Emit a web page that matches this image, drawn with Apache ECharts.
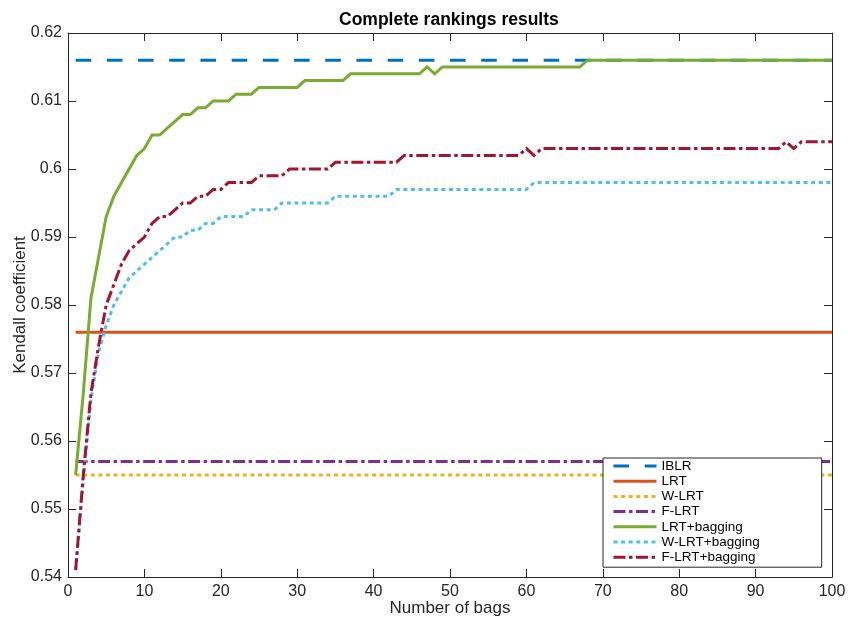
<!DOCTYPE html>
<html>
<head>
<meta charset="utf-8">
<script src="https://cdn.jsdelivr.net/npm/echarts@6/dist/echarts.min.js"></script>
<style>html,body{margin:0;padding:0;background:#fff}#c{width:848px;height:621px}</style>
</head>
<body>
<div id="c"></div>
<script>
// x values: number of bags 1..100
var bags = Array.from({length: 100}, function (_, i) { return i + 1; });

// constant baselines (endpoints at x = 1 and x = 100)
var constX = [1, 100];
var iblr  = [0.616, 0.616];
var lrt   = [0.576, 0.576];
var wlrt  = [0.555, 0.555];
var flrt  = [0.557, 0.557];

// LRT+bagging (x = 1..100)
var lrtBag = [
  0.555, 0.567, 0.581, 0.587, 0.593, 0.596, 0.598, 0.600, 0.602, 0.603,
  0.605, 0.605, 0.606, 0.607, 0.608, 0.608, 0.609, 0.609, 0.610, 0.610,
  0.610, 0.611, 0.611, 0.611, 0.612, 0.612, 0.612, 0.612, 0.612, 0.612,
  0.613, 0.613, 0.613, 0.613, 0.613, 0.613, 0.614, 0.614, 0.614, 0.614,
  0.614, 0.614, 0.614, 0.614, 0.614, 0.614, 0.615, 0.614, 0.615, 0.615,
  0.615, 0.615, 0.615, 0.615, 0.615, 0.615, 0.615, 0.615, 0.615, 0.615,
  0.615, 0.615, 0.615, 0.615, 0.615, 0.615, 0.615, 0.616, 0.616, 0.616,
  0.616, 0.616, 0.616, 0.616, 0.616, 0.616, 0.616, 0.616, 0.616, 0.616,
  0.616, 0.616, 0.616, 0.616, 0.616, 0.616, 0.616, 0.616, 0.616, 0.616,
  0.616, 0.616, 0.616, 0.616, 0.616, 0.616, 0.616, 0.616, 0.616, 0.616
];

// W-LRT+bagging (x = 1..100)
var wlrtBag = [
  0.541, 0.554, 0.566, 0.573, 0.577, 0.580, 0.582, 0.584, 0.585, 0.586,
  0.587, 0.588, 0.589, 0.590, 0.590, 0.591, 0.591, 0.592, 0.592, 0.593,
  0.593, 0.593, 0.593, 0.594, 0.594, 0.594, 0.594, 0.595, 0.595, 0.595,
  0.595, 0.595, 0.595, 0.595, 0.596, 0.596, 0.596, 0.596, 0.596, 0.596,
  0.596, 0.596, 0.597, 0.597, 0.597, 0.597, 0.597, 0.597, 0.597, 0.597,
  0.597, 0.597, 0.597, 0.597, 0.597, 0.597, 0.597, 0.597, 0.597, 0.597,
  0.598, 0.598, 0.598, 0.598, 0.598, 0.598, 0.598, 0.598, 0.598, 0.598,
  0.598, 0.598, 0.598, 0.598, 0.598, 0.598, 0.598, 0.598, 0.598, 0.598,
  0.598, 0.598, 0.598, 0.598, 0.598, 0.598, 0.598, 0.598, 0.598, 0.598,
  0.598, 0.598, 0.598, 0.598, 0.598, 0.598, 0.598, 0.598, 0.598, 0.598
];

// F-LRT+bagging (x = 1..100)
var flrtBag = [
  0.541, 0.555, 0.567, 0.574, 0.580, 0.583, 0.586, 0.588, 0.589, 0.590,
  0.592, 0.593, 0.593, 0.594, 0.595, 0.595, 0.596, 0.596, 0.597, 0.597,
  0.598, 0.598, 0.598, 0.598, 0.599, 0.599, 0.599, 0.599, 0.600, 0.600,
  0.600, 0.600, 0.600, 0.600, 0.601, 0.601, 0.601, 0.601, 0.601, 0.601,
  0.601, 0.601, 0.601, 0.602, 0.602, 0.602, 0.602, 0.602, 0.602, 0.602,
  0.602, 0.602, 0.602, 0.602, 0.602, 0.602, 0.602, 0.602, 0.602, 0.603,
  0.602, 0.603, 0.603, 0.603, 0.603, 0.603, 0.603, 0.603, 0.603, 0.603,
  0.603, 0.603, 0.603, 0.603, 0.603, 0.603, 0.603, 0.603, 0.603, 0.603,
  0.603, 0.603, 0.603, 0.603, 0.603, 0.603, 0.603, 0.603, 0.603, 0.603,
  0.603, 0.603, 0.603, 0.604, 0.603, 0.604, 0.604, 0.604, 0.604, 0.604
];

var names = ['IBLR', 'LRT', 'W-LRT', 'F-LRT', 'LRT+bagging', 'W-LRT+bagging', 'F-LRT+bagging'];
var colors = ['#0072BD', '#D95319', '#EDB120', '#7E2F8E', '#77AC30', '#4DBEEE', '#A2142F'];
var FONT = '"Liberation Sans", Arial, Helvetica, sans-serif';
var AX = '#262626';

function pairs(xs, ys) { return xs.map(function (x, i) { return [x, ys[i]]; }); }

var dashed  = [15.6, 15.6];
var dotted  = [4, 3.6];
var dashDot = [12, 3.5, 3.5, 3.5];

function mk(name, color, data, type) {
  return {
    name: name, type: 'line', data: data, xAxisIndex: 0, yAxisIndex: 0,
    symbol: 'none', smooth: false, animation: false,
    lineStyle: { color: color, width: 3, type: type, cap: 'butt', join: 'miter' },
    itemStyle: { color: color }
  };
}

var chart = echarts.init(document.getElementById('c'), null, { renderer: 'canvas' });
var yFmt = function (v) { return String(+(+v).toFixed(2)); };

chart.setOption({
  animation: false,
  backgroundColor: '#fff',
  title: {
    text: 'Complete rankings results', left: 339, top: 11, padding: 0,
    textStyle: { fontFamily: FONT, fontSize: 17.5, fontWeight: 'bold', color: '#000' }
  },
  grid: { left: 68, right: 16, top: 33, bottom: 44, containLabel: false, outerBoundsMode: 'none' },
  xAxis: [
    {
      type: 'value', min: 0, max: 100, interval: 10, position: 'bottom',
      name: 'Number of bags', nameLocation: 'middle', nameGap: 23, nameMoveOverlap: false,
      nameTextStyle: { fontFamily: FONT, fontSize: 17, color: AX },
      axisLine: { show: true, onZero: false, lineStyle: { color: AX, width: 1 } },
      axisTick: { show: true, inside: true, length: 8, lineStyle: { color: AX, width: 1 } },
      axisLabel: { fontFamily: FONT, fontSize: 16, color: AX, margin: 7 },
      splitLine: { show: false }
    },
    {
      type: 'value', min: 0, max: 100, interval: 10, position: 'top',
      axisLine: { show: true, onZero: false, lineStyle: { color: AX, width: 1 } },
      axisTick: { show: true, inside: true, length: 8, lineStyle: { color: AX, width: 1 } },
      axisLabel: { show: false }, splitLine: { show: false }
    }
  ],
  yAxis: [
    {
      type: 'value', min: 0.54, max: 0.62, interval: 0.01, position: 'left',
      name: 'Kendall coefficient', nameLocation: 'middle', nameGap: 39, nameMoveOverlap: false,
      nameTextStyle: { fontFamily: FONT, fontSize: 17, color: AX },
      axisLine: { show: true, onZero: false, lineStyle: { color: AX, width: 1 } },
      axisTick: { show: true, inside: true, length: 8, lineStyle: { color: AX, width: 1 } },
      axisLabel: { fontFamily: FONT, fontSize: 16, color: AX, margin: 6, formatter: yFmt },
      splitLine: { show: false }
    },
    {
      type: 'value', min: 0.54, max: 0.62, interval: 0.01, position: 'right',
      axisLine: { show: true, onZero: false, lineStyle: { color: AX, width: 1 } },
      axisTick: { show: true, inside: true, length: 8, lineStyle: { color: AX, width: 1 } },
      axisLabel: { show: false }, splitLine: { show: false }
    }
  ],
  legend: {
    data: names, orient: 'vertical', left: 603, top: 458,
    backgroundColor: '#fff', borderColor: AX, borderWidth: 1, borderRadius: 0,
    padding: [1, 62, 3, 9], itemWidth: 43, itemHeight: 14, itemGap: 1.2,
    selectedMode: false,
    itemStyle: { color: 'rgba(0,0,0,0)', borderWidth: 0, opacity: 0 },
    lineStyle: { width: 3 },
    textStyle: { fontFamily: FONT, fontSize: 13.5, color: '#000' }
  },
  series: [
    mk(names[0], colors[0], pairs(constX, iblr), dashed),
    mk(names[1], colors[1], pairs(constX, lrt), 'solid'),
    mk(names[2], colors[2], pairs(constX, wlrt), dotted),
    mk(names[3], colors[3], pairs(constX, flrt), dashDot),
    mk(names[4], colors[4], pairs(bags, lrtBag), 'solid'),
    mk(names[5], colors[5], pairs(bags, wlrtBag), dotted),
    mk(names[6], colors[6], pairs(bags, flrtBag), dashDot)
  ]
});
</script>
</body>
</html>
